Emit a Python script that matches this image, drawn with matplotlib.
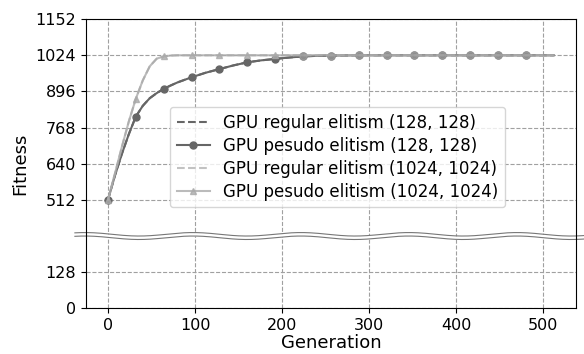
import numpy as np
import matplotlib
matplotlib.use("Agg")
import matplotlib.pyplot as plt

# generations
gens = [0, 8, 16, 24, 32, 40, 48, 56, 64, 72, 80, 96, 112, 128, 144, 160, 176,
        192, 208, 224, 240, 256, 288, 320, 352, 384, 416, 448, 480, 512]

regular_128 = [512, 598, 675, 745, 807, 845, 872, 890, 905, 917, 928, 946, 962,
               975, 988, 999, 1006, 1011, 1016, 1020, 1022, 1023, 1024, 1024,
               1024, 1024, 1024, 1024, 1024, 1024]
pesudo_128 = [512, 598, 675, 745, 807, 845, 872, 890, 905, 917, 928, 946, 962,
              975, 988, 999, 1006, 1011, 1016, 1020, 1022, 1023, 1024, 1024,
              1024, 1024, 1024, 1024, 1024, 1024]
regular_1024 = [512, 605, 700, 790, 870, 935, 985, 1012, 1020, 1023, 1024, 1024,
                1024, 1024, 1024, 1024, 1024, 1024, 1024, 1024, 1024, 1024, 1024,
                1024, 1024, 1024, 1024, 1024, 1024, 1024]
pesudo_1024 = [512, 605, 700, 790, 870, 935, 985, 1012, 1020, 1023, 1024, 1024,
               1024, 1024, 1024, 1024, 1024, 1024, 1024, 1024, 1024, 1024, 1024,
               1024, 1024, 1024, 1024, 1024, 1024, 1024]

y_ticks = [0, 128, 512, 640, 768, 896, 1024, 1152]
x_ticks = [0, 100, 200, 300, 400, 500]


# squeeze 128..512 so that the axis looks broken
def fwd(y):
    return np.interp(y, [-1e4, 128, 512, 1e4], [-1e4, 128, 384, 1e4 - 128])


def inv(y):
    return np.interp(y, [-1e4, 128, 384, 1e4 - 128], [-1e4, 128, 512, 1e4])


dark = "#666666"
light = "#b3b3b3"

fig = plt.figure(figsize=(5.84, 3.54), dpi=100)
ax = fig.add_axes([0.1467, 0.129, 0.8396, 0.817])
ax.set_yscale("function", functions=(fwd, inv))

mark_c = [i for i, g in enumerate(gens) if g % 32 == 0 and g <= 480]
mark_t = [i for i, g in enumerate(gens) if g % 32 == 0 and g <= 192]

ax.plot(gens, regular_128, "--", color=dark, lw=1.5,
        label="GPU regular elitism (128, 128)")
ax.plot(gens, pesudo_128, "-", color=dark, lw=1.5, marker="o", ms=5,
        markevery=mark_c, label="GPU pesudo elitism (128, 128)")
ax.plot(gens, regular_1024, "--", color=light, lw=1.5, alpha=0.8,
        label="GPU regular elitism (1024, 1024)")
ax.plot(gens, pesudo_1024, "-", color="#aaaaaa", lw=1.5, alpha=0.8,
        marker="^", ms=5, markevery=mark_t,
        label="GPU pesudo elitism (1024, 1024)")
# lighter overlay on the converged circles, as in the picture
ax.plot([gens[i] for i in mark_c if gens[i] >= 224],
        [pesudo_128[i] for i in mark_c if gens[i] >= 224],
        "o", ms=5, color="#a0a0a0", alpha=0.7, zorder=2.2)

ax.set_ylim(0, 1152)
ax.set_yticks(y_ticks)
ax.set_xticks(x_ticks)
ax.grid(True, linestyle="--", color="#a0a0a0", lw=0.8)
ax.tick_params(labelsize=11.5)
ax.set_xlabel("Generation", fontsize=13, labelpad=1)
ax.set_ylabel("Fitness", fontsize=13)
for s in ax.spines.values():
    s.set_zorder(3)

# wavy break band
px_w = ax.bbox.width
xs = np.linspace(-0.022, 1.02, 400)
xpx = xs * px_w + 85.7
wave = 0.25 + 0.006 * np.cos(2 * np.pi * (xpx - 193) / 108)
ax.fill_between(xs, wave - 0.006, wave + 0.006, color="white", zorder=2.6,
                transform=ax.transAxes, clip_on=False, lw=0)
ax.plot(xs, wave - 0.006, color="#777777", lw=0.8, transform=ax.transAxes,
        clip_on=False, zorder=2.7)
ax.plot(xs, wave + 0.006, color="#777777", lw=0.8, transform=ax.transAxes,
        clip_on=False, zorder=2.7)

ax.legend(loc="upper left", bbox_to_anchor=(0.155, 0.725), fontsize=12,
          handlelength=2.0, borderpad=0.4, labelspacing=0.3)

fig.savefig("out.png", dpi=100)
